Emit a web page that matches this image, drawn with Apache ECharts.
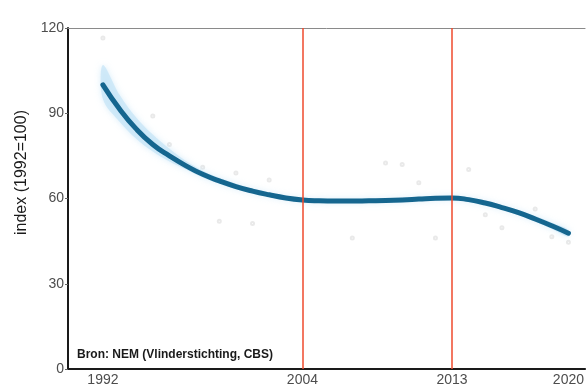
<!DOCTYPE html>
<html>
<head>
<meta charset="utf-8">
<script src="https://cdn.jsdelivr.net/npm/echarts@6/dist/echarts.min.js"></script>
<style>
  html, body { margin: 0; padding: 0; background: #ffffff; }
  #chart { width: 587px; height: 389px; }
</style>
</head>
<body>
<div id="chart"></div>
<script>
// Smoothed trend of the butterfly index (1992 = 100)
const years = [1992, 1993, 1994, 1995, 1996, 1997, 1998, 1999, 2000, 2001,
               2002, 2003, 2004, 2005, 2006, 2007, 2008, 2009, 2010, 2011,
               2012, 2013, 2014, 2015, 2016, 2017, 2018, 2019, 2020];
const trend = [100, 91.5, 84.5, 79, 75, 71.5, 68.5, 66.2, 64.2, 62.6,
               61.3, 60.2, 59.5, 59.2, 59.1, 59.1, 59.2, 59.3, 59.5, 59.8,
               60.1, 60.2, 59.6, 58.4, 56.8, 55.0, 52.8, 50.4, 47.8];
// Uncertainty band around the trend
const bandLow  = [95, 87, 81, 76.5, 73, 70.2, 67.4, 65.2, 63.3, 61.8,
                  60.5, 59.4, 58.7, 58.4, 58.3, 58.3, 58.4, 58.5, 58.7, 59.0,
                  59.3, 59.4, 58.8, 57.6, 56.0, 54.1, 51.8, 49.3, 46.6];
const bandHigh = [107, 96.5, 88.5, 82.5, 77.5, 73.2, 69.8, 67.3, 65.2, 63.5,
                  62.1, 61.0, 60.3, 60.0, 59.9, 59.9, 60.0, 60.1, 60.3, 60.6,
                  60.9, 61.0, 60.4, 59.2, 57.6, 55.9, 53.8, 51.5, 49.0];
// Yearly observed indices
const obsYears  = [1992, 1995, 1996, 1998, 1999, 2000, 2001, 2002, 2007, 2009, 2010, 2011, 2012, 2014, 2015, 2016, 2018, 2019, 2020];
const obsValues = [116.5, 89, 79, 71, 52, 69, 51.2, 66.5, 46.1, 72.5, 72, 65.5, 46.1, 70.2, 54.3, 49.7, 56.3, 46.5, 44.6];
// Marked break years and labelled years
const breakYears = [2004, 2013];
const xTickYears = [1992, 2004, 2013, 2020];

const pair = (xs, ys) => xs.map((x, i) => [x, ys[i]]);
const bandData = years.map((y, i) => [y, bandLow[i], bandHigh[i]]);

// Band drawn as one soft polygon through the axis scales
function renderBand(params, api) {
  if (params.dataIndex !== 0) return null;
  const upper = bandData.map(d => api.coord([d[0], d[2]]));
  const lower = bandData.map(d => api.coord([d[0], d[1]])).reverse();
  return {
    type: 'polygon',
    shape: { points: upper.concat(lower), smooth: 0.35 },
    style: {
      fill: 'rgba(196,228,247,0.7)',
      shadowBlur: 6, shadowColor: 'rgba(196,228,247,0.9)'
    },
    silent: true
  };
}

const FONT = 'Liberation Sans, Arial, sans-serif';
const chart = echarts.init(document.getElementById('chart'), null, { renderer: 'canvas' });
chart.setOption({
  animation: false,
  backgroundColor: '#ffffff',
  textStyle: { fontFamily: FONT },
  grid: { left: 68, right: 0, top: 28, bottom: 20 },
  xAxis: [{
    type: 'value', min: 1989.9, max: 2021,
    axisLine: { show: true, lineStyle: { color: '#1a1a1a', width: 2 } },
    axisTick: { show: false },
    splitLine: { show: false },
    axisLabel: {
      customValues: xTickYears, color: '#4d4d4d', fontSize: 14, margin: 4,
      formatter: v => String(v)
    }
  }, {
    type: 'value', min: 1989.9, max: 2021, position: 'top',
    axisLine: { show: true, lineStyle: { color: '#8a8a8a', width: 1 } },
    axisTick: { show: false }, axisLabel: { show: false }, splitLine: { show: false }
  }],
  yAxis: {
    type: 'value', min: 0, max: 120, interval: 30,
    axisLine: { show: true, lineStyle: { color: '#1a1a1a', width: 2 } },
    axisTick: { show: true, length: 3, lineStyle: { color: '#666' } },
    splitLine: { show: false },
    axisLabel: { color: '#4d4d4d', fontSize: 14, margin: 4 }
  },
  graphic: [{
    type: 'text', left: 14, top: 110,
    style: { text: 'index (1992=100)', fontSize: 16, fill: '#1a1a1a', fontFamily: FONT },
    rotation: Math.PI / 2
  }, {
    type: 'group', left: 72, top: 345,
    children: [{
      type: 'rect', shape: { x: 0, y: 0, width: 205, height: 21 },
      style: { fill: 'rgba(255,255,255,0.85)' }
    }, {
      type: 'text', x: 5, y: 4,
      style: { text: 'Bron: NEM (Vlinderstichting, CBS)', fontSize: 12, fontWeight: 'bold',
               fill: '#1a1a1a', fontFamily: FONT }
    }]
  }],
  series: [{
    type: 'scatter', data: pair(obsYears, obsValues), symbol: 'emptyCircle', symbolSize: 3,
    itemStyle: { color: '#e4e4e4', borderColor: '#e4e4e4' }, silent: true, z: 1
  }, {
    type: 'custom', data: bandData, renderItem: renderBand, silent: true, z: 2,
    encode: { x: 0, y: [1, 2] }
  }, {
    type: 'line', data: pair(years, trend), smooth: true, symbol: 'none',
    lineStyle: { color: '#15668f', width: 5, cap: 'round' }, z: 4,
    markLine: {
      silent: true, symbol: ['none', 'none'], label: { show: false },
      lineStyle: { color: '#ef4a2c', width: 1.5, type: 'solid' },
      data: breakYears.map(y => ({ xAxis: y }))
    }
  }]
});
</script>
</body>
</html>
